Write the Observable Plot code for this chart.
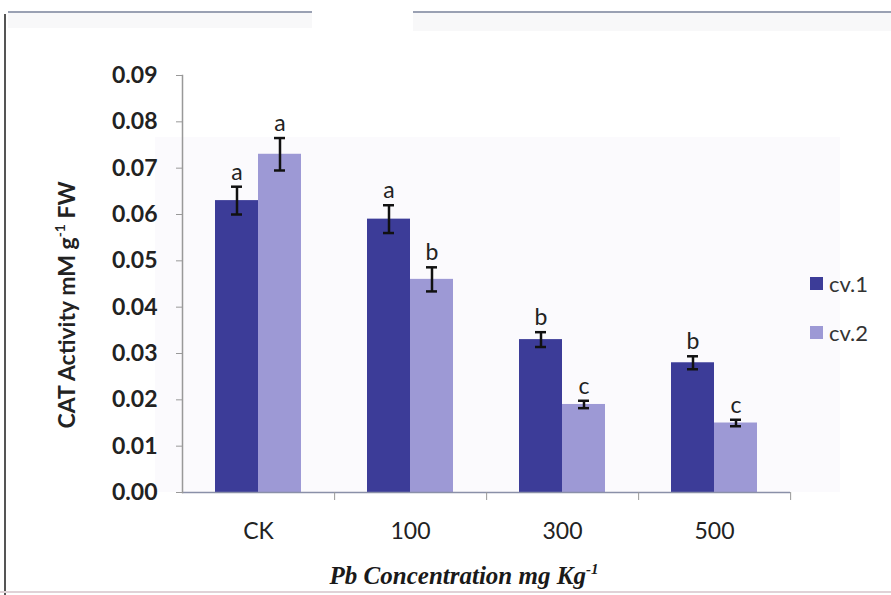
<!DOCTYPE html>
<html><head><meta charset="utf-8">
<script src="https://cdn.jsdelivr.net/npm/d3@7"></script>
<script src="https://cdn.jsdelivr.net/npm/@observablehq/plot@0.6"></script>
<style>
body{margin:0;background:#fff;}
#wrap{position:relative;width:891px;height:595px;overflow:hidden;font-family:Lato,"Open Sans",sans-serif;background:#fff;}
#bg{position:absolute;left:155px;top:137px;width:685px;height:355px;background:#fbfafd;}
.deco{position:absolute;}
#chart{position:absolute;left:0;top:0;}
#ytitle{position:absolute;left:66px;top:305px;transform:translate(-50%,-50%) rotate(-90deg);white-space:nowrap;font-weight:bold;font-size:23px;color:#222;}
#xtitle{position:absolute;left:464px;top:576px;transform:translate(-50%,-50%);white-space:nowrap;font-family:"Liberation Serif","Times New Roman",serif;font-weight:bold;font-style:italic;font-size:25px;color:#1a1a1a;}
sup{font-size:0.6em;vertical-align:0.7em;line-height:0;}
.leg{position:absolute;left:810px;display:flex;align-items:center;font-size:22px;color:#333;}
.sw{width:13px;height:13px;margin-right:6px;}
</style></head><body>
<div id="wrap">
  <div id="bg"></div>
  <div class="deco" style="left:8px;top:11px;width:304px;height:2px;background:#9aa1b3;"></div>
  <div class="deco" style="left:8px;top:13px;width:304px;height:15px;background:#f8f8f9;"></div>
  <div class="deco" style="left:413px;top:11px;width:478px;height:2px;background:#9aa1b3;"></div>
  <div class="deco" style="left:413px;top:13px;width:478px;height:18px;background:#f8f8f9;"></div>
  <div class="deco" style="left:4px;top:14px;width:2px;height:581px;background:#555;"></div>
  <div class="deco" style="left:0px;top:591px;width:891px;height:2px;background:#e0d2d7;"></div>
  <div id="chart"></div>
  <div id="ytitle">CAT Activity mM g<sup>-1</sup> FW</div>
  <div id="xtitle">Pb Concentration mg Kg<sup>-1</sup></div>
  <div id="legend"></div>
</div>
<script>
const categories = ["CK", "100", "300", "500"];
const series = ["cv.1", "cv.2"];
const cv1Values = [0.063, 0.059, 0.033, 0.028];
const cv2Values = [0.073, 0.046, 0.019, 0.015];
const cv1Errors = [0.003, 0.003, 0.0016, 0.0014];
const cv2Errors = [0.0035, 0.0026, 0.0008, 0.0007];
const cv1Letters = ["a", "a", "b", "b"];
const cv2Letters = ["a", "b", "c", "c"];
const yTicks = [0, 0.01, 0.02, 0.03, 0.04, 0.05, 0.06, 0.07, 0.08, 0.09];
const seriesColors = ["#3c3c98", "#9d99d5"];

const rows = [];
categories.forEach((c, i) => {
  rows.push({cat: c, series: series[0], value: cv1Values[i], err: cv1Errors[i], letter: cv1Letters[i]});
  rows.push({cat: c, series: series[1], value: cv2Values[i], err: cv2Errors[i], letter: cv2Letters[i]});
});

const W = 891, H = 595, mL = 181, mR = 101, mT = 75, mB = 103;
const step = (W - mL - mR) / categories.length;

const chart = Plot.plot({
  width: W, height: H,
  marginLeft: mL, marginRight: mR, marginTop: mT, marginBottom: mB,
  style: {background: "transparent", fontFamily: "Lato, 'Open Sans', sans-serif", overflow: "visible"},
  fx: {domain: categories, padding: 0, label: null, axis: null},
  x: {domain: series, paddingInner: 0, paddingOuter: 0.75, axis: null},
  y: {domain: [0, 0.09], label: null},
  color: {domain: series, range: seriesColors},
  marks: [
    Plot.barY(rows, {fx: "cat", x: "series", y: "value", fill: "series"}),
    Plot.ruleX(rows, {fx: "cat", x: "series", y1: d => d.value - d.err, y2: d => d.value + d.err, stroke: "#111", strokeWidth: 2.5}),
    Plot.tickY(rows, {fx: "cat", x: "series", y: d => d.value + d.err, stroke: "#111", strokeWidth: 2.5, insetLeft: 16, insetRight: 16}),
    Plot.tickY(rows, {fx: "cat", x: "series", y: d => d.value - d.err, stroke: "#111", strokeWidth: 2.5, insetLeft: 16, insetRight: 16}),
    Plot.text(rows, {fx: "cat", x: "series", y: d => d.value + d.err, text: "letter", dy: -7, lineAnchor: "bottom", fontSize: 23, fill: "#222"}),
    Plot.ruleY([0], {stroke: "#8a90a8", strokeWidth: 1.5}),
    Plot.frame({anchor: "left", facetAnchor: "left", stroke: "#999", strokeWidth: 1.5}),
    Plot.axisY({ticks: yTicks, tickFormat: d3.format(".2f"), tickSize: 6, tickPadding: 19, fontSize: 23, fontWeight: "bold", stroke: "#999", fill: "#222", label: null}),
    Plot.axisFx({anchor: "bottom", tickSize: 0, tickPadding: 30, fontSize: 23, fill: "#222", label: null}),
    Plot.axisFx({anchor: "bottom", tickSize: 8, tickFormat: () => "", dx: step / 2, stroke: "#999", label: null})
  ]
});
document.getElementById("chart").appendChild(chart);

const legend = document.getElementById("legend");
series.forEach((s, i) => {
  const el = document.createElement("div");
  el.className = "leg";
  el.style.top = (270 + i * 49) + "px";
  el.innerHTML = `<div class="sw" style="background:${seriesColors[i]}"></div><span>${s}</span>`;
  legend.appendChild(el);
});
</script>
</body></html>
